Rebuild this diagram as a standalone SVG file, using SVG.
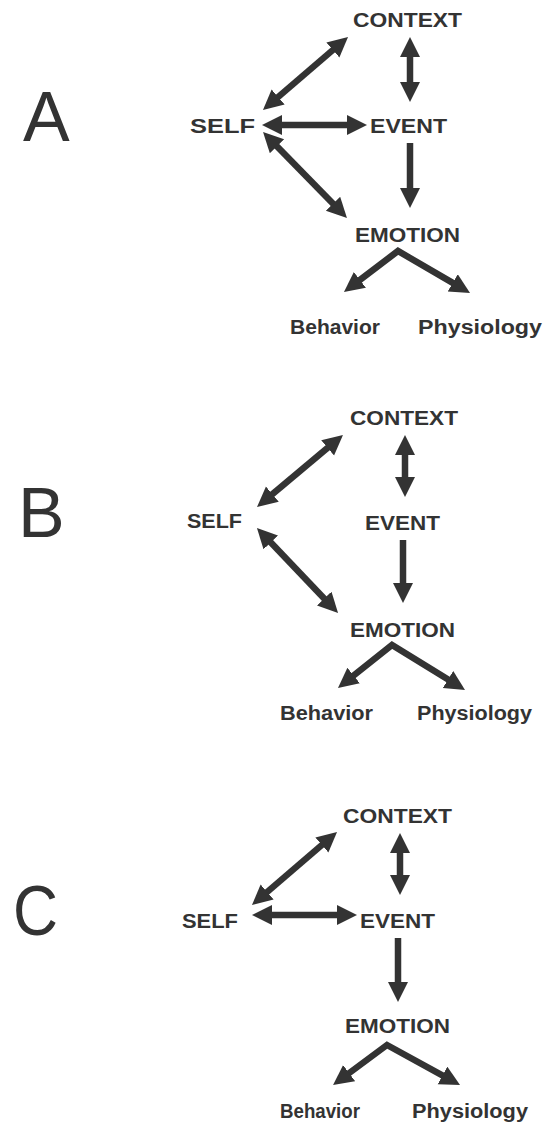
<svg xmlns="http://www.w3.org/2000/svg" width="543" height="1123" viewBox="0 0 543 1123">
<style>
.n{font-family:"Liberation Sans",Arial,Helvetica,sans-serif;font-weight:bold;font-size:21px;fill:#333}
.s{font-family:"Liberation Sans",Arial,Helvetica,sans-serif;font-weight:bold;font-size:20px;fill:#333}
.p{font-family:"Liberation Sans",Arial,Helvetica,sans-serif;font-size:70px;fill:#333}
.c{fill:none;stroke:#333;stroke-width:6.5;stroke-linejoin:miter}
.d{marker-start:url(#ah);marker-end:url(#ah)}
.e{marker-end:url(#ah)}
</style>
<defs>
<marker id="ah" markerUnits="userSpaceOnUse" markerWidth="22" markerHeight="22" refX="4" refY="10" orient="auto-start-reverse">
<path d="M0,0 L20,10 L0,20 z" fill="#333"/>
</marker>
</defs>
<rect width="543" height="1123" fill="#fff"/>
<g id="label-A"><text class="p" x="23" y="141">A</text></g>
<g id="label-B"><text class="p" x="18" y="537">B</text></g>
<g id="label-C"><text class="p" x="13" y="935" textLength="45" lengthAdjust="spacingAndGlyphs">C</text></g>

<g id="A-context"><text class="n" x="353" y="27" textLength="109" lengthAdjust="spacingAndGlyphs">CONTEXT</text></g>
<g id="A-self"><text class="n" x="190" y="133" textLength="65" lengthAdjust="spacingAndGlyphs">SELF</text></g>
<g id="A-event"><text class="n" x="370" y="133" textLength="77" lengthAdjust="spacingAndGlyphs">EVENT</text></g>
<g id="A-emotion"><text class="n" x="355" y="242" textLength="105" lengthAdjust="spacingAndGlyphs">EMOTION</text></g>
<g id="A-behavior"><text class="s" x="290" y="334" textLength="90" lengthAdjust="spacingAndGlyphs">Behavior</text></g>
<g id="A-physiology"><text class="s" x="418" y="334" textLength="124" lengthAdjust="spacingAndGlyphs">Physiology</text></g>

<g id="B-context"><text class="n" x="350" y="425" textLength="108" lengthAdjust="spacingAndGlyphs">CONTEXT</text></g>
<g id="B-self"><text class="n" x="187" y="528" textLength="55" lengthAdjust="spacingAndGlyphs">SELF</text></g>
<g id="B-event"><text class="n" x="365" y="530" textLength="75" lengthAdjust="spacingAndGlyphs">EVENT</text></g>
<g id="B-emotion"><text class="n" x="350" y="637" textLength="105" lengthAdjust="spacingAndGlyphs">EMOTION</text></g>
<g id="B-behavior"><text class="s" x="280" y="720" textLength="93" lengthAdjust="spacingAndGlyphs">Behavior</text></g>
<g id="B-physiology"><text class="s" x="417" y="720" textLength="115" lengthAdjust="spacingAndGlyphs">Physiology</text></g>

<g id="C-context"><text class="n" x="343" y="823" textLength="109" lengthAdjust="spacingAndGlyphs">CONTEXT</text></g>
<g id="C-self"><text class="n" x="182" y="928" textLength="56" lengthAdjust="spacingAndGlyphs">SELF</text></g>
<g id="C-event"><text class="n" x="360" y="928" textLength="75" lengthAdjust="spacingAndGlyphs">EVENT</text></g>
<g id="C-emotion"><text class="n" x="345" y="1033" textLength="105" lengthAdjust="spacingAndGlyphs">EMOTION</text></g>
<g id="C-behavior"><text class="s" x="280" y="1118" textLength="80" lengthAdjust="spacingAndGlyphs">Behavior</text></g>
<g id="C-physiology"><text class="s" x="412" y="1118" textLength="116" lengthAdjust="spacingAndGlyphs">Physiology</text></g>

<g id="connectors">
<!-- A -->
<path class="c d" d="M275.1,99.6 L335.9,47.4"/>
<path class="c d" d="M410,53 L410,86"/>
<path class="c d" d="M278,125 L351,125"/>
<path class="c d" d="M274.2,143.4 L335.8,206.6"/>
<path class="c e" d="M410,143 L410,192"/>
<path class="c d" d="M356.7,282.3 L398,251 L456.2,284.9"/>
<!-- B -->
<path class="c d" d="M269.3,496.7 L330.7,445.3"/>
<path class="c d" d="M405,451 L405,481"/>
<path class="c e" d="M403,540 L403,587"/>
<path class="c d" d="M268,539.6 L327,601.4"/>
<path class="c d" d="M350.5,678 L392,645 L451.4,681.6"/>
<!-- C -->
<path class="c d" d="M264.1,894.6 L324.9,842.4"/>
<path class="c d" d="M400,849 L400,879"/>
<path class="c d" d="M268,915 L341,915"/>
<path class="c e" d="M398,938 L398,986"/>
<path class="c d" d="M345.9,1075.5 L387,1045 L446,1077.3"/>
</g>
</svg>
